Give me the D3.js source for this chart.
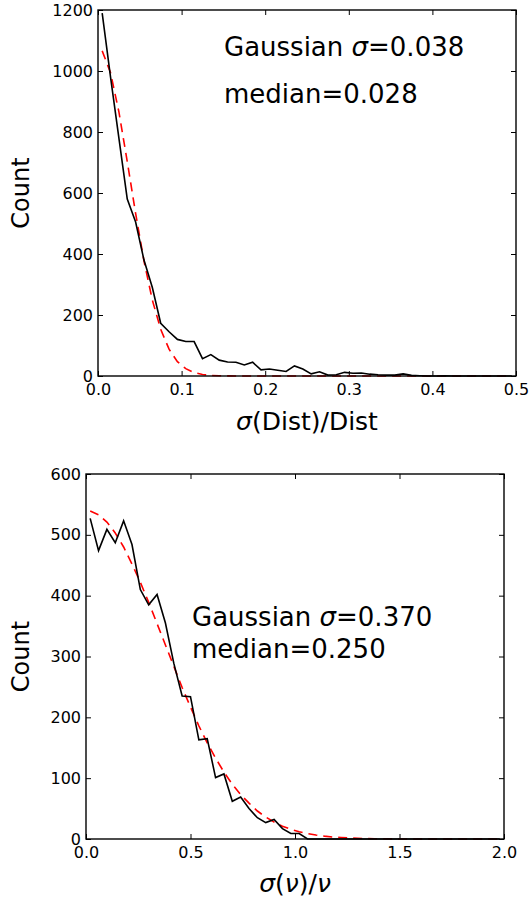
<!DOCTYPE html>
<html>
<head>
<meta charset="utf-8">
<script src="https://d3js.org/d3.v7.min.js"></script>
<style>
  body { margin: 0; background: #fff; }
  svg text { font-family: "DejaVu Sans", sans-serif; fill: #000; }
</style>
</head>
<body>
<div id="chart"></div>
<script>
// --- top panel: sigma(Dist)/Dist, bins of 0.01 ---
var distX = d3.range(50).map(function(i) { return +(0.005 + 0.01 * i).toFixed(3); });
var distCount = [1190, 980, 780, 580, 505, 380, 290, 173, 145, 120,
                 113, 113, 57, 70, 52, 46, 45, 36, 45, 20,
                 23, 19, 15, 33, 23, 7, 14, 3, 4, 12,
                 9, 10, 6, 4, 3, 3, 7, 2, 1, 0,
                 0, 1, 0, 0, 0, 0, 0, 0, 0, 0];
var distFit = [1066, 994, 866, 703, 533, 377, 249, 153, 88, 47,
               24, 11, 5, 2, 0.7, 0.3, 0, 0, 0, 0,
               0, 0, 0, 0, 0, 0, 0, 0, 0, 0,
               0, 0, 0, 0, 0, 0, 0, 0, 0, 0,
               0, 0, 0, 0, 0, 0, 0, 0, 0, 0];

// --- bottom panel: sigma(nu)/nu, bins of 0.04 ---
var nuX = d3.range(50).map(function(i) { return +(0.02 + 0.04 * i).toFixed(3); });
var nuCount = [527, 474, 509, 487, 523, 484, 410, 385, 402, 355,
               289, 235, 234, 163, 165, 101, 107, 62, 69, 50,
               35, 27, 32, 17, 9, 9, 0, 0, 0, 0,
               0, 0, 0, 0, 0, 0, 0, 0, 0, 0,
               0, 0, 0, 0, 0, 0, 0, 0, 0, 0];
var nuFit = [539, 533, 521, 503, 480, 452, 422, 389, 354, 319,
             284, 249, 217, 186, 158, 133, 110, 90, 73, 59,
             46, 36, 28, 21, 16, 12, 9, 6.5, 4.7, 3.3,
             2.4, 1.6, 1.1, 0.7, 0.5, 0.3, 0.2, 0.1, 0, 0,
             0, 0, 0, 0, 0, 0, 0, 0, 0, 0];

var distXTicks = [0, 0.1, 0.2, 0.3, 0.4, 0.5];
var distYTicks = [0, 200, 400, 600, 800, 1000, 1200];
var nuXTicks = [0, 0.5, 1.0, 1.5, 2.0];
var nuYTicks = [0, 100, 200, 300, 400, 500, 600];

var width = 531, height = 903;
var svg = d3.select("#chart").append("svg")
  .attr("width", width).attr("height", height);

function panel(opt) {
  var x = d3.scaleLinear().domain(opt.xDomain).range([opt.left, opt.right]);
  var y = d3.scaleLinear().domain(opt.yDomain).range([opt.bottom, opt.top]);
  var g = svg.append("g");

  var tickLen = 5;
  // ticks on all four sides, pointing inward
  g.append("g").attr("transform", "translate(0," + opt.bottom + ")")
    .call(d3.axisBottom(x).tickValues(opt.xTicks).tickSizeInner(-tickLen).tickSizeOuter(0)
      .tickPadding(8).tickFormat(d3.format(".1f")));
  g.append("g").attr("transform", "translate(0," + opt.top + ")")
    .call(d3.axisTop(x).tickValues(opt.xTicks).tickSizeInner(-tickLen).tickSizeOuter(0).tickFormat(""));
  g.append("g").attr("transform", "translate(" + opt.left + ",0)")
    .call(d3.axisLeft(y).tickValues(opt.yTicks).tickSizeInner(-tickLen).tickSizeOuter(0)
      .tickPadding(5).tickFormat(d3.format("d")));
  g.append("g").attr("transform", "translate(" + opt.right + ",0)")
    .call(d3.axisRight(y).tickValues(opt.yTicks).tickSizeInner(-tickLen).tickSizeOuter(0).tickFormat(""));
  g.selectAll(".domain").remove();
  g.selectAll(".tick line").attr("stroke", "#000").attr("stroke-width", 1);
  g.selectAll(".tick text").attr("font-size", 16).attr("font-family", "DejaVu Sans");

  var line = d3.line().x(function(d) { return x(d[0]); }).y(function(d) { return y(d[1]); });

  g.append("path")
    .attr("d", line(opt.xs.map(function(v, i) { return [v, opt.fit[i]]; })))
    .attr("fill", "none").attr("stroke", "#ff0000").attr("stroke-width", 1.6)
    .attr("stroke-dasharray", "9,6");
  g.append("path")
    .attr("d", line(opt.xs.map(function(v, i) { return [v, opt.counts[i]]; })))
    .attr("fill", "none").attr("stroke", "#000").attr("stroke-width", 1.6);

  g.append("rect")
    .attr("x", opt.left).attr("y", opt.top)
    .attr("width", opt.right - opt.left).attr("height", opt.bottom - opt.top)
    .attr("fill", "none").attr("stroke", "#000").attr("stroke-width", 1.4);

  // y label
  g.append("text")
    .attr("transform", "translate(" + opt.yLabelX + "," + ((opt.top + opt.bottom) / 2) + ") rotate(-90)")
    .attr("text-anchor", "middle").attr("font-size", 24)
    .text("Count");

  return { x: x, y: y, g: g };
}

var topPanel = panel({
  left: 98, right: 516, top: 10, bottom: 376,
  xDomain: [0, 0.5], yDomain: [0, 1200],
  xTicks: distXTicks, yTicks: distYTicks,
  xs: distX, counts: distCount, fit: distFit,
  yLabelX: 29
});

var xl1 = topPanel.g.append("text")
  .attr("x", 307).attr("y", 430).attr("text-anchor", "middle").attr("font-size", 25);
xl1.append("tspan").attr("font-style", "italic").text("σ");
xl1.append("tspan").text("(Dist)/Dist");

var a1 = topPanel.g.append("text").attr("x", 224).attr("y", 56).attr("font-size", 26);
a1.append("tspan").text("Gaussian ");
a1.append("tspan").attr("font-style", "italic").text("σ");
a1.append("tspan").text("=0.038");
topPanel.g.append("text").attr("x", 224).attr("y", 103).attr("font-size", 26).text("median=0.028");

var botPanel = panel({
  left: 86, right: 504, top: 474, bottom: 839,
  xDomain: [0, 2], yDomain: [0, 600],
  xTicks: nuXTicks, yTicks: nuYTicks,
  xs: nuX, counts: nuCount, fit: nuFit,
  yLabelX: 29
});

var xl2 = botPanel.g.append("text")
  .attr("x", 295).attr("y", 892).attr("text-anchor", "middle").attr("font-size", 25)
  .attr("font-family", "DejaVu Serif").attr("font-style", "italic");
xl2.append("tspan").text("σ");
xl2.append("tspan").attr("font-style", "normal").text("(");
xl2.append("tspan").text("ν");
xl2.append("tspan").attr("font-style", "normal").text(")/");
xl2.append("tspan").text("ν");

var a2 = botPanel.g.append("text").attr("x", 192).attr("y", 626).attr("font-size", 26);
a2.append("tspan").text("Gaussian ");
a2.append("tspan").attr("font-style", "italic").text("σ");
a2.append("tspan").text("=0.370");
botPanel.g.append("text").attr("x", 192).attr("y", 658).attr("font-size", 26).text("median=0.250");
</script>
</body>
</html>
